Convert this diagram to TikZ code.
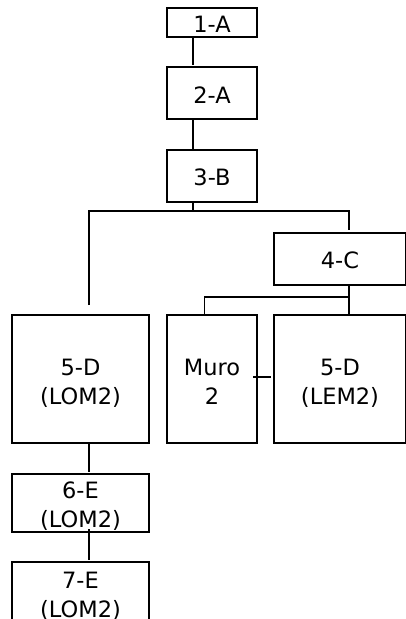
\documentclass[tikz,border=0pt]{standalone}
\usepackage{fontspec}
\setmainfont{DejaVu Sans}
\newcommand{\onelinetxt}[2]{\raisebox{-#1pt}[0pt][0pt]{#2}}
\newcommand{\twolinetxt}[3]{\raisebox{-#1pt}[0pt][0pt]{\begin{tabular}[b]{@{}c@{}}#2\\#3\end{tabular}}}
\begin{document}
\begin{tikzpicture}[x=1pt,y=1pt,
  boxn/.style={draw=black, line width=2.6pt, inner sep=0pt, outer sep=0pt,
    font=\fontsize{22.5}{29}\selectfont},
  conn/.style={draw=black, line width=1.9pt}]
\useasboundingbox (0,0) rectangle (405,-619);
\node[boxn, minimum width=90, minimum height=29] (a1) at (212,-22.5) {\onelinetxt{10}{1-A}};
\node[boxn, minimum width=90, minimum height=52] (a2) at (212,-93) {\onelinetxt{10}{2-A}};
\node[boxn, minimum width=90, minimum height=52] (b3) at (212,-176) {\onelinetxt{9.5}{3-B}};
\node[boxn, minimum width=132, minimum height=52] (c4) at (340,-259) {\onelinetxt{9}{4-C}};
\node[boxn, minimum width=137, minimum height=128] (d5) at (80.5,-379) {\twolinetxt{25}{5-D}{(LOM2)}};
\node[boxn, minimum width=90, minimum height=128] (muro) at (212,-379) {\twolinetxt{25}{Muro}{2}};
\node[boxn, minimum width=132, minimum height=128] (d5r) at (340,-379) {\twolinetxt{25}{5-D}{(LEM2)}};
\node[boxn, minimum width=137, minimum height=58] (e6) at (80.5,-503) {\twolinetxt{24.5}{6-E}{(LOM2)}};
\node[boxn, minimum width=137, minimum height=58] (e7) at (80.5,-591) {\twolinetxt{26}{7-E}{(LOM2)}};
% connectors
\draw[conn] ([xshift=-19pt]a1.south) -- ([xshift=-19pt,yshift=2pt]a2.north);
\draw[conn] ([xshift=-19pt,yshift=1pt]a2.south) -- ([xshift=-19pt,yshift=1pt]b3.north);
\coordinate (bj) at ([xshift=-19pt,yshift=-9pt]b3.south);
\coordinate (bl) at ([xshift=8.5pt,yshift=10pt]d5.north);
\coordinate (br) at ([xshift=9pt,yshift=3pt]c4.north);
\draw[conn] ([xshift=-19pt]b3.south) -- (bj);
\draw[conn] (bl) |- (bj) -| (br);
\coordinate (cj) at ([xshift=9pt,yshift=-12pt]c4.south);
\draw[conn] ([xshift=9pt]c4.south) -- ([xshift=9pt]d5r.north);
\draw[conn] (cj) -| ([xshift=-7.5pt]muro.north);
\draw[conn] ([xshift=-4pt,yshift=2pt]muro.east) -- ([xshift=-3pt,yshift=2pt]d5r.west);
\draw[conn] ([xshift=8.5pt]d5.south) -- ([xshift=8.5pt,yshift=2pt]e6.north);
\draw[conn] ([xshift=8.5pt,yshift=3pt]e6.south) -- ([xshift=8.5pt,yshift=2pt]e7.north);
\end{tikzpicture}
\end{document}
